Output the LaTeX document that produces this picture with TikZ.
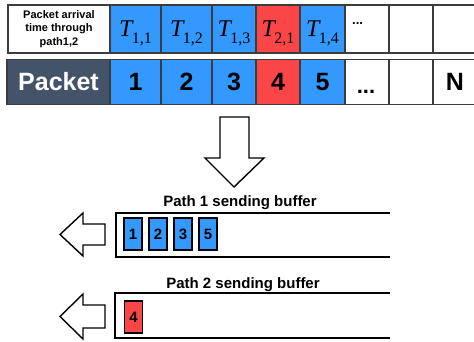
\documentclass[tikz,border=0pt]{standalone}
\usepackage{fontspec}
\setmainfont{Liberation Sans}
\newfontfamily\tfont{Liberation Serif}
\definecolor{pktblue}{RGB}{51,153,255}
\definecolor{pktred}{RGB}{250,70,70}
\definecolor{slate}{RGB}{68,84,104}
\definecolor{gridline}{RGB}{60,60,60}
\newcommand{\Tlab}[1]{{\tfont\fontsize{24}{24}\selectfont\itshape T}\kern-0.5pt\raisebox{-7pt}{\tfont\fontsize{16}{16}\selectfont #1}}
\tikzset{
  cell/.style={draw=gridline, line width=1.1pt, inner sep=0pt, minimum height=48pt},
  pcell/.style={draw=gridline, line width=1.1pt, inner sep=0pt, minimum height=45pt},
  tlabel/.style={anchor=base, inner sep=0pt},
  numlabel/.style={font=\bfseries\fontsize{25}{25}\selectfont, inner sep=0pt},
  buflabel/.style={anchor=base, inner sep=0pt, font=\bfseries\fontsize{15}{15}\selectfont},
  bufline/.style={line width=2pt, black},
  hollow/.style={draw=black, line width=1.4pt, fill=white, line join=miter},
  qbox/.style={draw=black, line width=1.4pt, inner sep=0pt, minimum width=18pt, minimum height=32pt, font=\bfseries\fontsize{15}{15}\selectfont},
}
\begin{document}
\begin{tikzpicture}[x=1pt,y=-1pt]
\useasboundingbox (0,0) rectangle (474,341);
\fill[white] (0,0) rectangle (474,341);

% arrival-time row
\node[cell, minimum width=102pt, fill=white, align=center,
      font=\bfseries\fontsize{11}{13.5}\selectfont] (hdr) at (59,29)
      {Packet arrival\\time through\\path1,2};
\node[cell, minimum width=51pt, fill=pktblue] (t1) at (135.5,29) {};
\node[cell, minimum width=51pt, fill=pktblue] (t2) at (186.5,29) {};
\node[cell, minimum width=44pt, fill=pktblue] (t3) at (234,29) {};
\node[cell, minimum width=44pt, fill=pktred]  (t4) at (278,29) {};
\node[cell, minimum width=45pt, fill=pktblue] (t5) at (322.5,29) {};
\node[cell, minimum width=44pt, fill=white]   (t6) at (367,29) {};
\node[cell, minimum width=44pt, fill=white]   (t7) at (411,29) {};
\node[cell, minimum width=44pt, fill=white]   (t8) at (455,29) {};
\node[tlabel] (l1) at (135.5,36) {\Tlab{1,1}};
\node[tlabel] (l2) at (186.5,36) {\Tlab{1,2}};
\node[tlabel] (l3) at (234,36) {\Tlab{1,3}};
\node[tlabel] (l4) at (278,36) {\Tlab{2,1}};
\node[tlabel] (l5) at (322.5,36) {\Tlab{1,4}};
\node[anchor=base west, inner sep=0pt, font=\bfseries\fontsize{13}{13}\selectfont] (l6) at (352,24) {...};

% packet row
\node[pcell, minimum width=103pt, fill=slate, text=white,
      font=\bfseries\fontsize{25}{25}\selectfont] (pk) at (58.5,82) {Packet};
\node[pcell, minimum width=51pt, fill=pktblue, numlabel] (p1) at (135.5,82) {1};
\node[pcell, minimum width=51pt, fill=pktblue, numlabel] (p2) at (186.5,82) {2};
\node[pcell, minimum width=44pt, fill=pktblue, numlabel] (p3) at (234,82) {3};
\node[pcell, minimum width=44pt, fill=pktred, numlabel]  (p4) at (278,82) {4};
\node[pcell, minimum width=45pt, fill=pktblue, numlabel] (p5) at (322.5,82) {5};
\node[pcell, minimum width=44pt, fill=white] (p6) at (367,82) {};
\node[pcell, minimum width=44pt, fill=white] (p7) at (411,82) {};
\node[pcell, minimum width=44pt, fill=white, numlabel] (p8) at (455,82) {N};
\node[anchor=base, inner sep=0pt, font=\bfseries\fontsize{22}{22}\selectfont] (pdots) at (366,93) {...};

% big downward arrow
\draw[hollow] (220,117) -- (249,117) -- (249,158) -- (264,158) -- (234,187)
   -- (205,158) -- (220,158) -- cycle;

% path 1 sending buffer
\node[buflabel] (b1lab) at (240,206) {Path 1 sending buffer};
\draw[bufline] (390,213) -- (116,213) -- (116,257) -- (390,257);
\node[qbox, fill=pktblue] (q1) at (133,234) {1};
\node[qbox, fill=pktblue] (q2) at (158,234) {2};
\node[qbox, fill=pktblue] (q3) at (183,234) {3};
\node[qbox, fill=pktblue] (q5) at (208,234) {5};
\draw[hollow] (105,224) -- (83,224) -- (83,213) -- (60,234.5) -- (83,256)
   -- (83,245) -- (105,245) -- cycle;

% path 2 sending buffer
\node[buflabel] (b2lab) at (243,288) {Path 2 sending buffer};
\draw[bufline] (390,293) -- (115,293) -- (115,338) -- (390,338);
\node[qbox, fill=pktred] (q4) at (133.5,317) {4};
\draw[hollow] (105,305) -- (83,305) -- (83,294) -- (60,316.5) -- (83,339)
   -- (83,328) -- (105,328) -- cycle;
\end{tikzpicture}
\end{document}
